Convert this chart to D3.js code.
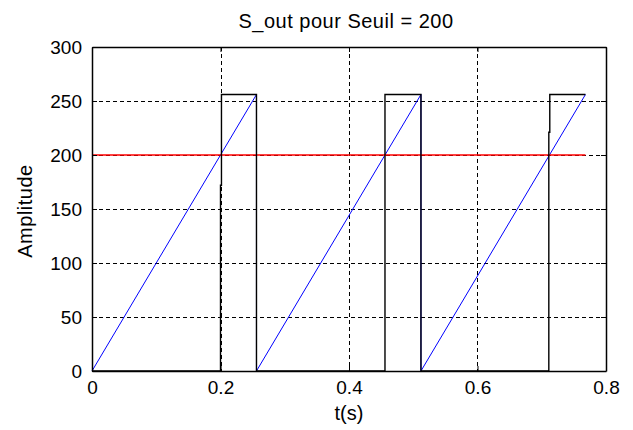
<!DOCTYPE html>
<html><head><meta charset="utf-8">
<script src="https://cdn.jsdelivr.net/npm/d3@7"></script>
<style>
body{margin:0;background:#fff;}
text{font-family:"Liberation Sans",Arial,sans-serif;fill:#000;}
</style></head>
<body><svg id="c" width="633" height="430"></svg>
<script>
// Data
const rampT = [0, 0.256, 0.256, 0.512, 0.512, 0.768];
const rampV = [0, 256, 0, 256, 0, 256];
const seuilT = [0, 0.768];
const seuilV = [200, 200];
const sOutT = [0, 0.2, 0.2, 0.2015, 0.2015, 0.256, 0.256, 0.456, 0.456, 0.512, 0.512, 0.711, 0.711, 0.7125, 0.7125, 0.768];
const sOutV = [0, 0, 172, 172, 256, 256, 0, 0, 256, 256, 0, 0, 221, 221, 256, 256];
const xTicks = [0, 0.2, 0.4, 0.6, 0.8];
const xTickLabels = ["0", "0.2", "0.4", "0.6", "0.8"];
const yTicks = [0, 50, 100, 150, 200, 250, 300];
const yTickLabels = ["0", "50", "100", "150", "200", "250", "300"];
const title = "S_out pour Seuil = 200";
const xLabel = "t(s)";
const yLabel = "Amplitude";

const svg = d3.select("#c");
const L = 92, R = 606, T = 47, B = 371;
const x = d3.scaleLinear().domain([0, 0.8]).range([L, R]);
const y = d3.scaleLinear().domain([0, 300]).range([B, T]);
const fs = 19;

// grid
const g = svg.append("g");
g.selectAll(".gx").data(xTicks.slice(1, -1)).join("line")
  .attr("x1", d => Math.round(x(d)) + 0.5).attr("x2", d => Math.round(x(d)) + 0.5)
  .attr("y1", T).attr("y2", B)
  .attr("stroke", "#000").attr("stroke-dasharray", "4,3");
g.selectAll(".gy").data(yTicks.slice(1, -1)).join("line")
  .attr("y1", d => Math.round(y(d)) + 0.5).attr("y2", d => Math.round(y(d)) + 0.5)
  .attr("x1", L).attr("x2", R)
  .attr("stroke", "#000").attr("stroke-dasharray", "4,3");

const line = d3.line().x(d => x(d[0])).y(d => y(d[1]));
const zip = (a, b) => a.map((v, i) => [v, b[i]]);

svg.append("path").datum(zip(rampT, rampV)).attr("d", line)
  .attr("fill", "none").attr("stroke", "#0000ff").attr("stroke-width", 1);
svg.append("path").datum(zip(seuilT, seuilV)).attr("d", line)
  .attr("fill", "none").attr("stroke", "#ff0000").attr("stroke-width", 1.3);
svg.append("path").datum(zip(sOutT, sOutV)).attr("d", line)
  .attr("fill", "none").attr("stroke", "#000").attr("stroke-width", 1.4);

// axes
const xAxB = d3.axisBottom(x).tickValues(xTicks).tickFormat((d, i) => xTickLabels[i]).tickSizeInner(-5).tickSizeOuter(0).tickPadding(10);
const yAxL = d3.axisLeft(y).tickValues(yTicks).tickFormat((d, i) => yTickLabels[i]).tickSizeInner(-5).tickSizeOuter(0).tickPadding(10);
const xAxT = d3.axisTop(x).tickValues(xTicks).tickFormat("").tickSizeInner(-5).tickSizeOuter(0);
const yAxR = d3.axisRight(y).tickValues(yTicks).tickFormat("").tickSizeInner(-5).tickSizeOuter(0);
const ax = [
  svg.append("g").attr("transform", `translate(0,${B})`).call(xAxB),
  svg.append("g").attr("transform", `translate(${L},0)`).call(yAxL),
  svg.append("g").attr("transform", `translate(0,${T})`).call(xAxT),
  svg.append("g").attr("transform", `translate(${R},0)`).call(yAxR)
];
ax.forEach(a => {
  a.selectAll("path").attr("stroke", "#000").attr("stroke-width", 1.5);
  a.selectAll("line").attr("stroke", "#000");
  a.selectAll("text").attr("font-size", fs).attr("font-family", "Liberation Sans, Arial, sans-serif").attr("fill", "#000");
});

svg.append("text").attr("x", 346).attr("y", 28).attr("text-anchor", "middle").attr("font-size", 20).attr("letter-spacing", 0.5).text(title);
svg.append("text").attr("x", 349).attr("y", 420).attr("text-anchor", "middle").attr("font-size", 20).text(xLabel);
svg.append("text").attr("transform", "translate(32,211) rotate(-90)").attr("text-anchor", "middle").attr("font-size", 20).attr("letter-spacing", 0.5).text(yLabel);
</script></body></html>
